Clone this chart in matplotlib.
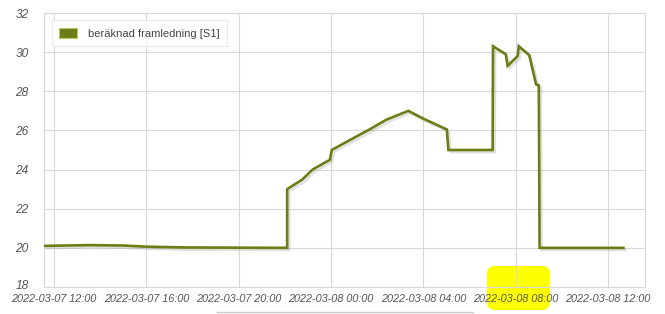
import matplotlib
matplotlib.use("Agg")
import matplotlib.pyplot as plt
import matplotlib.dates as mdates
import matplotlib.patheffects as pe
import matplotlib.transforms as mtransforms
from matplotlib.patches import FancyBboxPatch, Rectangle
from matplotlib.lines import Line2D
import pandas as pd

# Flow temperature readings
times = [
    "2022-03-07 11:36", "2022-03-07 13:30", "2022-03-07 15:00", "2022-03-07 16:00",
    "2022-03-07 17:40", "2022-03-07 22:06", "2022-03-07 22:06", "2022-03-07 22:46",
    "2022-03-07 23:12", "2022-03-07 23:57", "2022-03-08 00:02", "2022-03-08 00:48",
    "2022-03-08 01:40", "2022-03-08 02:24", "2022-03-08 03:21", "2022-03-08 04:00",
    "2022-03-08 05:01", "2022-03-08 05:05", "2022-03-08 07:00", "2022-03-08 07:01",
    "2022-03-08 07:34", "2022-03-08 07:39", "2022-03-08 08:05", "2022-03-08 08:08",
    "2022-03-08 08:35", "2022-03-08 08:53", "2022-03-08 09:00", "2022-03-08 09:02",
    "2022-03-08 12:40",
]
values = [
    20.10, 20.14, 20.12, 20.06,
    20.02, 20.0, 23.0, 23.5,
    24.0, 24.5, 25.0, 25.5,
    26.05, 26.55, 27.0, 26.6,
    26.05, 25.0, 25.0, 30.3,
    29.9, 29.3, 29.8, 30.3,
    29.85, 28.35, 28.3, 20.0,
    20.0,
]
series_label = "beräknad framledning [S1]"
y_ticks = [18, 20, 22, 24, 26, 28, 30, 32]

OLIVE = "#6b7d14"
GRID = "#d9d9d9"
TICK_INK = "#555555"

x = pd.to_datetime(times)

fig = plt.figure(figsize=(6.65, 3.14), dpi=100)
fig.patch.set_facecolor("white")
ax = fig.add_axes([44 / 665, 27 / 314, 601 / 665, 274 / 314])
ax.set_facecolor("none")

# yellow highlighter blob behind the axes
fig.patches.append(FancyBboxPatch((4.87, 0.04), 0.63, 0.44,
                                  boxstyle="round,pad=0,rounding_size=0.08",
                                  transform=fig.dpi_scale_trans,
                                  facecolor="#ffff00", edgecolor="none", zorder=-5))
fig.lines.append(Line2D([2.17, 4.73], [0.02, 0.02], transform=fig.dpi_scale_trans,
                        color="#cccccc", linewidth=1))

ax.plot(x, values, color=OLIVE, linewidth=1.9, solid_joinstyle="miter", zorder=3,
        path_effects=[pe.SimpleLineShadow(offset=(1.5, -1.5), shadow_color="#888888", alpha=0.25),
                      pe.Normal()])

ax.set_xlim(pd.Timestamp("2022-03-07 11:34"), pd.Timestamp("2022-03-08 13:36"))
ax.set_ylim(18, 32)
ax.set_yticks(y_ticks)
ax.xaxis.set_major_locator(mdates.HourLocator(byhour=[0, 4, 8, 12, 16, 20]))
ax.xaxis.set_major_formatter(mdates.DateFormatter("%Y-%m-%d %H:%M"))

ax.grid(True, color=GRID, linewidth=0.8, zorder=0)
ax.set_axisbelow(True)
for s in ax.spines.values():
    s.set_color(GRID)
    s.set_linewidth(0.8)

ax.tick_params(axis="both", length=0, colors=TICK_INK)
ax.tick_params(axis="x", labelsize=7.8, pad=5)
ax.tick_params(axis="y", labelsize=8.6, pad=11)
for lab in ax.get_xticklabels() + ax.get_yticklabels():
    lab.set_fontfamily("Liberation Sans")
    lab.set_fontstyle("italic")
# nudge the bottom y label up slightly so it clears the first date label
low = ax.get_yticklabels()[0]
low.set_transform(low.get_transform() + mtransforms.ScaledTranslation(0, 2.5 / 100, fig.dpi_scale_trans))

handle = Rectangle((0, 0), 1, 1, facecolor=OLIVE, edgecolor="#b7c76a", linewidth=0.8)
leg = ax.legend([handle], [series_label], loc="upper left",
                bbox_to_anchor=(0.008, 0.985), frameon=True, fancybox=False,
                handlelength=1.6, handleheight=1.1, handletextpad=1.0,
                borderpad=0.65, borderaxespad=0.3,
                prop={"family": "Liberation Sans", "size": 8})
leg.get_frame().set_edgecolor("#e4e4e4")
leg.get_frame().set_linewidth(0.8)
for t in leg.get_texts():
    t.set_color("#444444")

fig.savefig("out.png", dpi=100, facecolor="white")
